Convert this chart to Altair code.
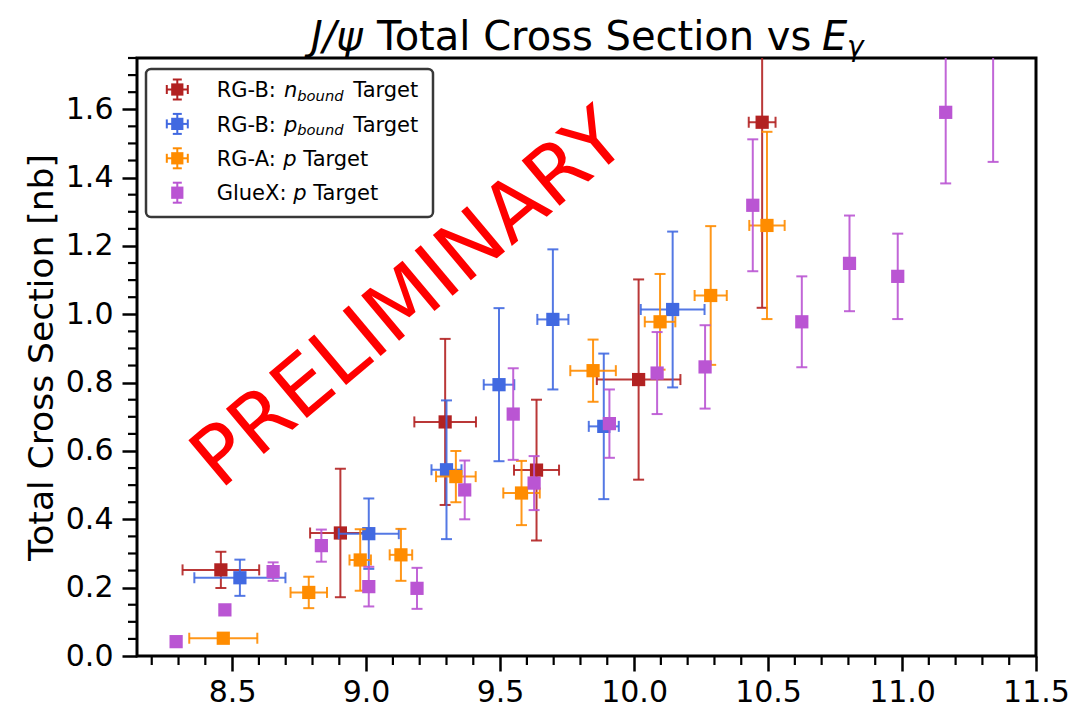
import altair as alt
import pandas as pd

# ---- measured J/psi total cross sections (E_gamma in GeV, sigma in nb) ----
# RG-B, bound neutron target
nb_E = [8.458, 8.904, 9.295, 9.636, 10.017, 10.478]
nb_dE = [0.143, 0.113, 0.115, 0.084, 0.156, 0.050]
nb_sig = [0.252, 0.360, 0.685, 0.544, 0.809, 1.562]
nb_dsig = [0.053, 0.188, 0.243, 0.206, 0.293, 0.543]

# RG-B, bound proton target
pb_E = [8.529, 9.010, 9.300, 9.496, 9.697, 9.887, 10.144]
pb_dE = [0.170, 0.112, 0.056, 0.057, 0.058, 0.056, 0.119]
pb_sig = [0.229, 0.358, 0.545, 0.794, 0.985, 0.672, 1.014]
pb_dsig = [0.053, 0.103, 0.203, 0.224, 0.205, 0.213, 0.228]

# RG-A, free proton target
ra_E = [8.467, 8.786, 8.978, 9.130, 9.335, 9.580, 9.847, 10.097, 10.286, 10.496]
ra_dE = [0.127, 0.068, 0.040, 0.042, 0.074, 0.068, 0.085, 0.057, 0.060, 0.066]
ra_sig = [0.052, 0.186, 0.281, 0.296, 0.525, 0.477, 0.835, 0.978, 1.055, 1.260]
ra_dsig = [0.008, 0.046, 0.090, 0.076, 0.075, 0.094, 0.091, 0.140, 0.203, 0.274]

# GlueX, proton target (no energy bin widths shown)
gx_E = [8.291, 8.473, 8.653, 8.833, 9.010, 9.190, 9.368, 9.549, 9.627,
        9.908, 10.086, 10.265, 10.443, 10.626, 10.804, 10.984, 11.163, 11.340]
gx_sig = [0.042, 0.135, 0.247, 0.323, 0.203, 0.198, 0.486, 0.708, 0.506,
          0.680, 0.828, 0.846, 1.319, 0.978, 1.149, 1.111, 1.591, 1.800]
gx_dsig = [0.005, 0.012, 0.027, 0.047, 0.058, 0.060, 0.086, 0.134, 0.079,
           0.100, 0.120, 0.122, 0.193, 0.133, 0.140, 0.125, 0.208, 0.354]

x_major = [8.5, 9.0, 9.5, 10.0, 10.5, 11.0, 11.5]
x_minor = [8.2, 8.3, 8.4, 8.6, 8.7, 8.8, 8.9, 9.1, 9.2, 9.3, 9.4, 9.6, 9.7, 9.8,
           9.9, 10.1, 10.2, 10.3, 10.4, 10.6, 10.7, 10.8, 10.9, 11.1, 11.2,
           11.3, 11.4]
y_major = [0.0, 0.2, 0.4, 0.6, 0.8, 1.0, 1.2, 1.4, 1.6]
y_minor = [0.05, 0.1, 0.15, 0.25, 0.3, 0.35, 0.45, 0.5, 0.55, 0.65, 0.7, 0.75,
           0.85, 0.9, 0.95, 1.05, 1.1, 1.15, 1.25, 1.3, 1.35, 1.45, 1.5, 1.55,
           1.65, 1.7, 1.75]

FONT = "DejaVu Sans"
W, H = 899, 598

xscale = alt.Scale(domain=[8.145, 11.5], nice=False, zero=False)
yscale = alt.Scale(domain=[0, 1.75], nice=False, zero=False)
xaxis = alt.Axis(values=x_major, format=".1f", title=None, domain=False, grid=False,
                 tickSize=15, tickWidth=2.5, tickColor="black",
                 labelFontSize=30, labelFont=FONT, labelColor="black",
                 labelPadding=6, labelFlush=False)
yaxis = alt.Axis(values=y_major, format=".1f", title="Total Cross Section [nb]",
                 domain=False, grid=False, tickSize=15, tickWidth=2.5,
                 tickColor="black", labelFontSize=30, labelFont=FONT,
                 labelColor="black", labelPadding=9, labelFlush=False,
                 titleFontSize=34.5, titleFont=FONT, titleFontWeight="normal",
                 titleColor="black", titlePadding=6)


def X(field):
    return alt.X(field, type="quantitative", scale=xscale, axis=xaxis)


def Y(field):
    return alt.Y(field, type="quantitative", scale=yscale, axis=yaxis)


def frame(E, dE, sig, dsig):
    df = pd.DataFrame({"E": E, "sig": sig, "dsig": dsig})
    if dE is not None:
        df["dE"] = dE
        df["elo"] = df["E"] - df["dE"]
        df["ehi"] = df["E"] + df["dE"]
    df["lo"] = df["sig"] - df["dsig"]
    df["hi"] = df["sig"] + df["dsig"]
    return df


series = [
    ("#B22222", frame(nb_E, nb_dE, nb_sig, nb_dsig), True),
    ("#4169E1", frame(pb_E, pb_dE, pb_sig, pb_dsig), True),
    ("#FF8C00", frame(ra_E, ra_dE, ra_sig, ra_dsig), True),
    ("#BA55D3", frame(gx_E, None, gx_sig, gx_dsig), False),
]

layers = []

# minor ticks on the bottom and left spines
layers.append(
    alt.Chart(pd.DataFrame({"v": x_minor})).mark_rule(color="black", strokeWidth=2.2)
    .encode(x=X("v"), y=alt.value(H), y2=alt.value(H + 9))
)
layers.append(
    alt.Chart(pd.DataFrame({"v": y_minor})).mark_rule(color="black", strokeWidth=2.2)
    .encode(y=Y("v"), x=alt.value(0), x2=alt.value(-9))
)

EB_W = 2
CAP = 11
for color, df, has_x in series:
    base = alt.Chart(df)
    if has_x:
        layers.append(base.mark_rule(color=color, strokeWidth=EB_W, opacity=0.9, clip=True)
                      .encode(x=X("elo"), x2="ehi", y=Y("sig")))
        for f in ("elo", "ehi"):
            layers.append(base.mark_tick(color=color, orient="vertical", size=CAP,
                                         thickness=EB_W, opacity=0.9, clip=True)
                          .encode(x=X(f), y=Y("sig")))
    layers.append(base.mark_rule(color=color, strokeWidth=EB_W, opacity=0.9, clip=True)
                  .encode(x=X("E"), y=Y("lo"), y2="hi"))
    for f in ("lo", "hi"):
        layers.append(base.mark_tick(color=color, orient="horizontal", size=CAP,
                                     thickness=EB_W, opacity=0.9, clip=True)
                      .encode(x=X("E"), y=Y(f)))
    layers.append(base.mark_square(color=color, size=175, opacity=1, clip=True)
                  .encode(x=X("E"), y=Y("sig")))

# watermark
wm = pd.DataFrame({"E": [9.164], "sig": [1.042]})
layers.append(
    alt.Chart(wm).mark_text(text="PRELIMINARY", color="red", font=FONT, fontSize=81,
                            angle=320, align="center", baseline="middle")
    .encode(x=X("E"), y=Y("sig"))
)

one = pd.DataFrame({"k": [0]})


def txt(s, x, y, size, italic=False, color="black"):
    kw = dict(text=s, font=FONT, fontSize=size, color=color, align="left",
              baseline="alphabetic")
    if italic:
        kw["fontStyle"] = "italic"
    return alt.Chart(one).mark_text(**kw).encode(x=alt.value(x), y=alt.value(y))


def rule(x1, y1, x2, y2, color, w=2):
    return alt.Chart(one).mark_rule(color=color, strokeWidth=w).encode(
        x=alt.value(x1), y=alt.value(y1), x2=alt.value(x2), y2=alt.value(y2))


# title with math-style pieces
layers.append(txt("J/\u03c8", 174, -8, 40, italic=True))
layers.append(txt("Total Cross Section vs", 240, -8, 40))
layers.append(txt("E", 685, -8, 40, italic=True))
layers.append(txt("\u03b3", 710, -2, 28, italic=True))

# legend box
layers.append(
    alt.Chart(one).mark_rect(fill="white", fillOpacity=0.85, stroke="#383838",
                             strokeWidth=2.5, cornerRadius=5)
    .encode(x=alt.value(9), x2=alt.value(296), y=alt.value(11), y2=alt.value(159))
)

rows = [
    ("#B22222", True, [("RG-B: ", 79.7, False), ("n", 147, True), ("Target", 216.3, False)], "bound"),
    ("#4169E1", True, [("RG-B: ", 79.7, False), ("p", 147, True), ("Target", 216.3, False)], "bound"),
    ("#FF8C00", True, [("RG-A: ", 79.7, False), ("p", 146.3, True), ("Target", 166.3, False)], None),
    ("#BA55D3", False, [("GlueX: ", 79.7, False), ("p", 156.2, True), ("Target", 176.2, False)], None),
]
mx = 40.3
for i, (color, has_x, pieces, sub) in enumerate(rows):
    cy = 31.5 + 34.4 * i
    if has_x:
        layers.append(rule(mx - 10.5, cy, mx + 10.5, cy, color))
        layers.append(rule(mx - 10.5, cy - 4.5, mx - 10.5, cy + 4.5, color))
        layers.append(rule(mx + 10.5, cy - 4.5, mx + 10.5, cy + 4.5, color))
    layers.append(rule(mx, cy - 10, mx, cy + 10, color))
    layers.append(rule(mx - 4.5, cy - 10, mx + 4.5, cy - 10, color))
    layers.append(rule(mx - 4.5, cy + 10, mx + 4.5, cy + 10, color))
    layers.append(alt.Chart(one).mark_square(color=color, size=150, opacity=1)
                  .encode(x=alt.value(mx), y=alt.value(cy)))
    for s, x, it in pieces:
        layers.append(txt(s, x, cy + 7.6, 21, italic=it))
    if sub:
        layers.append(txt(sub, 160.3, cy + 11, 14.7, italic=True))

chart = (
    alt.layer(*layers)
    .properties(width=W, height=H,
                autosize=alt.AutoSizeParams(type="none"),
                padding={"left": 137, "top": 58, "right": 56, "bottom": 51},
                background="white")
    .configure_view(stroke="black", strokeWidth=3)
)

chart.save("out.html", embed_options={"renderer": "svg", "actions": False})
